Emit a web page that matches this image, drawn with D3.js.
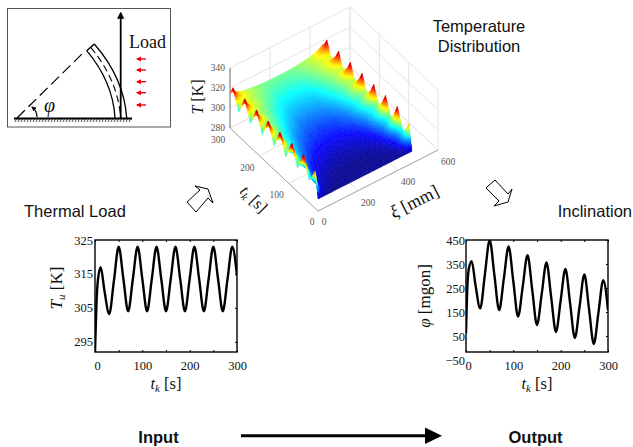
<!DOCTYPE html>
<html>
<head>
<meta charset="utf-8">
<script src="https://d3js.org/d3.v7.min.js"></script>
<style>
html, body { margin: 0; padding: 0; background: #fff; }
svg { display: block; }
</style>
</head>
<body>
<svg id="chart" width="633" height="447"></svg>
<script>
// values
var lineTimes = [0, 3, 6, 12, 20, 30, 40, 50, 60, 70, 80, 90, 100, 110, 120, 130, 140, 150, 160, 170, 180, 190, 200, 210, 220, 230, 240, 250, 260, 270, 280, 290, 300];
var thermalLoad = [292, 306, 313, 317, 310, 303.2, 313, 323, 313.5, 304, 313.5, 323, 313.5, 304, 313.5, 323, 313.5, 304, 313.5, 323, 313.5, 304, 313.5, 323, 313.5, 304, 313.5, 323, 313.5, 304, 313.5, 323, 314.5];
var inclination = [62, 260, 330, 362, 263, 165, 308, 450, 304, 158, 290, 423, 277, 131, 259, 387, 241, 96, 226, 356, 211, 67, 198, 329, 185, 42, 174, 306, 161, 17, 150, 283, 158];

var loadTicks = [325, 315, 305, 295];
var inclinationTicks = [450, 350, 250, 150, 50, -50];
var timeTicks = [0, 50, 100, 150, 200, 250, 300];
var timeLabels = [0, 100, 200, 300];

// surface: one row per depth from a heated edge, one column per 10 s
var gridTimes = [0, 10, 20, 30, 40, 50, 60, 70, 80, 90, 100, 110, 120, 130, 140, 150, 160, 170, 180, 190, 200, 210, 220, 230, 240, 250, 260, 270, 280, 290, 300];
var depth0 = [292, 317, 309, 303, 313, 323, 313, 304, 313, 323, 313, 304, 313, 323, 313, 304, 313, 323, 313, 304, 313, 323, 313, 304, 313, 323, 313, 304, 313, 323, 314];
var depth8 = [292, 306, 306, 304, 307, 315, 311, 307, 310.5, 317, 313, 308.5, 312, 317.5, 313.5, 309, 312.5, 318, 314, 309.5, 313, 318, 314, 309.5, 313, 318.5, 314.5, 310, 313.5, 318.5, 316];
var depth16 = [292, 299, 302, 301, 303, 309, 308, 305, 307, 312, 310.5, 307, 309.5, 314, 312, 308.5, 310.5, 315, 313, 309.5, 311.5, 315.5, 313.5, 310, 312, 316, 314, 310.5, 312.5, 316, 314.5];
var depth30 = [292, 294, 297, 297, 298.5, 302, 303, 302, 303.5, 306, 306.5, 305, 306, 309, 309, 307.5, 308.5, 311, 311, 309.5, 310, 312, 312, 310.5, 311, 313, 313, 311, 312, 314, 313.5];
var depth50 = [292, 292.5, 293.5, 294, 295.5, 297, 298, 299, 300.5, 302, 302.5, 303, 304, 305.5, 306, 306, 307, 308, 308, 308, 308.5, 309.5, 309.5, 309.5, 310, 311, 311, 311, 311.5, 312, 311.5];
var depth80 = [292, 292, 292.5, 293, 293.5, 294, 295, 295.5, 296.5, 297.5, 298.5, 299.5, 300.5, 301.5, 302.5, 303, 304, 304.5, 305.5, 306, 306.5, 307, 307.5, 308, 308.5, 309, 309.5, 309.5, 310, 310, 310];
var depth120 = [292, 292, 292, 292.2, 292.5, 293, 293.5, 294, 294.5, 295.2, 296, 296.8, 297.6, 298.4, 299.2, 300, 300.8, 301.6, 302.4, 303.2, 304, 304.6, 305.2, 305.8, 306.4, 307, 307.5, 308, 308.4, 308.8, 309];
var depth170 = [292, 292, 292, 292, 292.2, 292.5, 293, 293.3, 293.8, 294.3, 294.9, 295.5, 296.1, 296.8, 297.4, 298, 298.7, 299.4, 300.1, 300.8, 301.5, 302.2, 302.9, 303.6, 304.3, 305, 305.7, 306.3, 306.9, 307.4, 308];
var depth235 = [292, 292, 292, 292, 292, 292.3, 292.6, 293, 293.4, 293.9, 294.4, 295, 295.6, 296.2, 296.8, 297.4, 298.1, 298.8, 299.5, 300.2, 301, 301.7, 302.4, 303.1, 303.8, 304.5, 305.2, 305.9, 306.6, 307.2, 307.8];
var gridXi = [0, 8, 16, 30, 50, 80, 120, 170, 235, 300, 350, 390, 420, 440, 454, 462, 470];
var gridRows = [depth0, depth8, depth16, depth30, depth50, depth80, depth120, depth170, depth235, depth170, depth120, depth80, depth50, depth30, depth16, depth8, depth0];

var jetStops = [292, 295.5, 304.5, 312, 319, 323.5];
var jetColors = ["#00008f", "#0000ff", "#00ffff", "#ffff00", "#ff0000", "#800000"];

var xiTicks = [0, 200, 400, 600];
var surfTimeTicks = [0, 100, 200, 300];
var tempTicks = [280, 300, 320, 340];

var svg = d3.select("#chart");
var serif = "'Liberation Serif', serif";
var sans = "'Liberation Sans', Arial, sans-serif";

svg.append("defs").append("filter").attr("id", "soft")
    .attr("x", "-5%").attr("y", "-5%").attr("width", "110%").attr("height", "110%")
    .append("feGaussianBlur").attr("stdDeviation", 0.7);

var defs = svg.select("defs");
defs.append("marker").attr("id", "tip").attr("viewBox", "0 0 10 10")
    .attr("refX", 8).attr("refY", 5).attr("markerWidth", 4).attr("markerHeight", 5).attr("orient", "auto")
    .append("path").attr("d", "M0,0L10,5L0,10z").attr("fill", "#000");
defs.append("marker").attr("id", "redtip").attr("viewBox", "0 0 10 10")
    .attr("refX", 8).attr("refY", 5).attr("markerWidth", 4).attr("markerHeight", 4).attr("orient", "auto")
    .append("path").attr("d", "M0,0L10,5L0,10z").attr("fill", "#f00000");

/* ---- line plots ---- */
function linePlot(cfg) {
    var x = d3.scaleLinear().domain([0, 300]).range([cfg.left, cfg.left + 142]);
    var y = d3.scaleLinear().domain(cfg.yDomain).range(cfg.yRange);
    var g = svg.append("g");

    g.append("clipPath").attr("id", cfg.id).append("rect")
        .attr("x", cfg.left).attr("y", 240).attr("width", 142).attr("height", 112);

    g.append("path")
        .attr("clip-path", "url(#" + cfg.id + ")")
        .attr("fill", "none").attr("stroke", "#000").attr("stroke-width", 2.4)
        .attr("d", d3.line().curve(d3.curveMonotoneX)
            .x(function (d, i) { return x(lineTimes[i]); })
            .y(function (d) { return y(d); })(cfg.values));

    // inward ticks along top and bottom
    g.append("g").attr("transform", "translate(0,352)")
        .call(d3.axisBottom(x).tickValues(timeTicks).tickSize(-2).tickFormat(""))
        .call(function (a) { a.select(".domain").remove(); });
    g.append("g").attr("transform", "translate(0,240)")
        .call(d3.axisTop(x).tickValues(timeTicks).tickSize(-2).tickFormat(""))
        .call(function (a) { a.select(".domain").remove(); });

    g.append("g").attr("transform", "translate(0,361)")
        .call(d3.axisBottom(x).tickValues(timeLabels).tickSize(0).tickPadding(0).tickFormat(d3.format("d")))
        .call(function (a) {
            a.select(".domain").remove();
            a.selectAll("text").attr("font-family", serif).attr("font-size", 12.5).attr("fill", "#111")
                .attr("dx", function (d) { return d === 0 ? 2 : 0; });
        });

    g.append("g").attr("transform", "translate(" + cfg.left + ",0)")
        .call(d3.axisLeft(y).tickValues(cfg.ticks).tickSize(0).tickPadding(cfg.pad).tickFormat(d3.format("d")))
        .call(function (a) {
            a.select(".domain").remove();
            a.selectAll("text").attr("font-family", serif).attr("font-size", 12.5).attr("fill", "#111");
        });
    g.append("g").attr("transform", "translate(" + (cfg.left + 142) + ",0)")
        .call(d3.axisRight(y).tickValues(cfg.ticks.filter(function (v) { return v >= y.invert(352); })).tickSize(-2).tickFormat(""))
        .call(function (a) { a.select(".domain").remove(); });

    g.append("rect")
        .attr("x", cfg.left).attr("y", 240).attr("width", 142).attr("height", 112)
        .attr("fill", "none").attr("stroke", "#000").attr("stroke-width", 1.4);

    // x title
    var xt = g.append("text").attr("x", cfg.left + 71).attr("y", 389)
        .attr("text-anchor", "middle").attr("font-family", serif).attr("font-size", 16.5).attr("fill", "#111");
    xt.append("tspan").attr("font-style", "italic").text("t");
    xt.append("tspan").attr("font-style", "italic").attr("font-size", 11).attr("dy", 3).text("k");
    xt.append("tspan").attr("dy", -3).text(" [s]");

    // y title
    var yt = g.append("text")
        .attr("transform", "translate(" + cfg.titleX + "," + cfg.titleY + ") rotate(-90)")
        .attr("text-anchor", "middle").attr("font-family", serif).attr("font-size", 17).attr("fill", "#111");
    cfg.yTitle(yt);
}

linePlot({
    id: "clipLoad", left: 95, values: thermalLoad, ticks: loadTicks,
    yDomain: [292, 325], yRange: [352, 240], pad: 2, titleX: 62, titleY: 288,
    yTitle: function (t) {
        t.append("tspan").attr("font-style", "italic").text("T");
        t.append("tspan").attr("font-style", "italic").attr("font-size", 11).attr("dy", 3).text("u");
        t.append("tspan").attr("dy", -3).text("  [K]");
    }
});

linePlot({
    id: "clipIncl", left: 466, values: inclination, ticks: inclinationTicks,
    yDomain: [-50, 450], yRange: [360, 240], pad: 1, titleX: 430, titleY: 296,
    yTitle: function (t) {
        t.append("tspan").attr("font-style", "italic").text("\u03c6");
        t.append("tspan").text(" [mgon]");
    }
});

/* ---- 3d surface ---- */
var xiToX = d3.scaleLinear().domain([0, 600]).range([0, 120]);
var xiToY = d3.scaleLinear().domain([0, 600]).range([0, -61]);
var tToX = d3.scaleLinear().domain([0, 300]).range([0, -88]);
var tToY = d3.scaleLinear().domain([0, 300]).range([0, -83]);
var tempToY = d3.scaleLinear().domain([280, 340]).range([211, 151]);
var jet = d3.scaleLinear().domain(jetStops).range(jetColors).clamp(true);

function project(xi, t, T) {
    return [318 + xiToX(xi) + tToX(t), tempToY(T) + xiToY(xi) + tToY(t)];
}

var box = svg.append("g").attr("fill", "none");
function seg(a, b, col) {
    var p = project(a[0], a[1], a[2]), q = project(b[0], b[1], b[2]);
    box.append("line").attr("x1", p[0]).attr("y1", p[1]).attr("x2", q[0]).attr("y2", q[1])
        .attr("stroke", col).attr("stroke-width", 1);
}
var wall = "#e4e4e4", edge = "#a8a8a8";
tempTicks.forEach(function (T) {
    seg([0, 300, T], [600, 300, T], wall);
    seg([600, 300, T], [600, 0, T], wall);
});
xiTicks.forEach(function (xi) {
    seg([xi, 300, 280], [xi, 300, 340], wall);
    seg([xi, 300, 280], [xi, 0, 280], wall);
});
surfTimeTicks.forEach(function (t) {
    seg([600, t, 280], [600, t, 340], wall);
    seg([0, t, 280], [600, t, 280], wall);
});
seg([0, 0, 280], [600, 0, 280], edge);
seg([0, 0, 280], [0, 300, 280], edge);
seg([0, 300, 280], [0, 300, 340], "#777");

// interp shading: every grid cell is split up so the colour runs smoothly
var quads = [];
var split = 4;
function cellPoint(r, c, u, v) {
    var a = gridRows[r][c], b = gridRows[r][c + 1], d = gridRows[r + 1][c], e = gridRows[r + 1][c + 1];
    var T = a * (1 - u) * (1 - v) + b * u * (1 - v) + d * (1 - u) * v + e * u * v;
    var xi = gridXi[r] + (gridXi[r + 1] - gridXi[r]) * v;
    var t = gridTimes[c] + (gridTimes[c + 1] - gridTimes[c]) * u;
    return {xi: xi, t: t, T: T};
}
for (var c = gridTimes.length - 2; c >= 0; c--) {
    for (var s = split - 1; s >= 0; s--) {
        for (var r = gridXi.length - 2; r >= 0; r--) {
            for (var q = split - 1; q >= 0; q--) {
                quads.push([
                    cellPoint(r, c, s / split, q / split),
                    cellPoint(r, c, (s + 1) / split, q / split),
                    cellPoint(r, c, (s + 1) / split, (q + 1) / split),
                    cellPoint(r, c, s / split, (q + 1) / split)
                ]);
            }
        }
    }
}

svg.append("g").attr("filter", "url(#soft)")
    .selectAll("path").data(quads).join("path")
    .attr("d", function (d) {
        return "M" + d.map(function (p) { return project(p.xi, p.t, p.T).map(function (n) { return n.toFixed(2); }).join(","); }).join("L") + "Z";
    })
    .attr("fill", function (d) { return jet(d3.mean(d, function (p) { return p.T; })); })
    .attr("stroke", function (d) { return jet(d3.mean(d, function (p) { return p.T; })); })
    .attr("stroke-width", 0.4);

// small grey tick labels round the box
var tickText = svg.append("g").attr("font-family", serif).attr("font-size", 9.5).attr("fill", "#555").attr("text-anchor", "middle");
tempTicks.forEach(function (T) {
    var p = project(0, 300, T);
    tickText.append("text").attr("x", p[0] - 5).attr("y", p[1] + 3).attr("text-anchor", "end").text(T);
});
surfTimeTicks.forEach(function (t) {
    var p = project(0, t, 280);
    tickText.append("text").attr("x", p[0] + (t === 0 ? -6 : -12)).attr("y", p[1] + (t === 0 ? 14 : 15)).text(t);
});
xiTicks.forEach(function (xi) {
    var p = project(xi, 0, 280);
    tickText.append("text").attr("x", p[0] + (xi === 0 ? 6 : 10)).attr("y", p[1] + (xi === 0 ? 14 : 15)).text(xi);
});

var tLabel = svg.append("text").attr("transform", "translate(203,97) rotate(-90)")
    .attr("text-anchor", "middle").attr("font-family", serif).attr("font-size", 16).attr("fill", "#111");
tLabel.append("tspan").attr("font-style", "italic").text("T");
tLabel.append("tspan").text("  [K]");

var tkLabel = svg.append("text").attr("transform", "translate(250,203) rotate(45)")
    .attr("text-anchor", "middle").attr("font-family", serif).attr("font-size", 16.5).attr("fill", "#111");
tkLabel.append("tspan").attr("font-style", "italic").text("t");
tkLabel.append("tspan").attr("font-style", "italic").attr("font-size", 11).attr("dy", 3).text("k");
tkLabel.append("tspan").attr("dy", -3).text(" [s]");

var xiLabel = svg.append("text").attr("transform", "translate(417,207) rotate(-27)")
    .attr("text-anchor", "middle").attr("font-family", serif).attr("font-size", 18).attr("fill", "#111");
xiLabel.append("tspan").attr("font-style", "italic").text("\u03be");
xiLabel.append("tspan").text(" [mm]");

/* ---- captions ---- */
function caption(txt, x, y, size, anchor, weight) {
    svg.append("text").attr("x", x).attr("y", y).attr("font-family", sans).attr("font-size", size)
        .attr("text-anchor", anchor).attr("font-weight", weight || "normal").attr("fill", "#111").text(txt);
}
caption("Temperature", 479, 32, 16.5, "middle");
caption("Distribution", 479, 52, 16.5, "middle");
caption("Thermal Load", 24, 217, 16.5, "start");
caption("Inclination", 632, 217, 16.5, "end");
caption("Input", 158.5, 443, 16.5, "middle", "bold");
caption("Output", 535.5, 443, 16.5, "middle", "bold");

/* ---- flow arrows ---- */
var inArrow = [[187, 202], [200, 190], [195, 186], [208, 189], [213, 203], [208, 198], [196, 212]];
var outArrow = [[486, 188], [495, 180], [508, 194], [512, 189], [508, 202], [494, 206], [499, 201]];
[inArrow, outArrow].forEach(function (pts) {
    svg.append("polygon").attr("points", pts.join(" ")).attr("fill", "#fff").attr("stroke", "#000").attr("stroke-width", 1);
});

svg.append("line").attr("x1", 241).attr("y1", 435.7).attr("x2", 426).attr("y2", 435.7).attr("stroke", "#000").attr("stroke-width", 3);
svg.append("polygon").attr("points", "425,427.5 442,435.7 425,444").attr("fill", "#000");

/* ---- beam sketch ---- */
var sketch = svg.append("g").attr("fill", "none").attr("stroke", "#000");
sketch.append("rect").attr("x", 7.5).attr("y", 8.5).attr("width", 163).attr("height", 118.5).attr("stroke", "#555").attr("stroke-width", 1);
sketch.append("line").attr("x1", 14).attr("y1", 118.5).attr("x2", 132).attr("y2", 118.5).attr("stroke-width", 2);
d3.range(15, 132, 3).forEach(function (hx) {
    sketch.append("line").attr("x1", hx + 1.5).attr("y1", 119).attr("x2", hx).attr("y2", 122).attr("stroke-width", 0.7);
});
sketch.append("line").attr("x1", 17).attr("y1", 118).attr("x2", 83).attr("y2", 53).attr("stroke-width", 1.2).attr("stroke-dasharray", "11,5");
sketch.append("path").attr("d", "M94.3,44Q124,78 126.7,118").attr("stroke-width", 1.3);
sketch.append("path").attr("d", "M86.7,50.7Q113,82 115,118").attr("stroke-width", 1.3);
sketch.append("path").attr("d", "M90.7,47.3Q118,80 120.7,118").attr("stroke-width", 1.1).attr("stroke-dasharray", "7,4");
sketch.append("line").attr("x1", 86.7).attr("y1", 50.7).attr("x2", 94.3).attr("y2", 44).attr("stroke-width", 1.5);
sketch.append("line").attr("x1", 120.7).attr("y1", 118).attr("x2", 120.7).attr("y2", 13).attr("stroke-width", 1.8).attr("marker-end", "url(#tip)");
sketch.append("path").attr("d", "M37,117Q37,111 32,107").attr("stroke-width", 1.2).attr("marker-end", "url(#tip)");

[59, 70, 81.7, 92.7, 105].forEach(function (ry) {
    sketch.append("line").attr("x1", 146).attr("y1", ry).attr("x2", 137).attr("y2", ry)
        .attr("stroke", "#f00000").attr("stroke-width", 1.4).attr("marker-end", "url(#redtip)");
});
svg.append("text").attr("x", 129).attr("y", 48).attr("font-family", serif).attr("font-size", 18).attr("fill", "#111").text("Load");
svg.append("text").attr("x", 44).attr("y", 112).attr("font-family", serif).attr("font-style", "italic").attr("font-size", 20).attr("fill", "#111").text("\u03c6");
</script>
</body>
</html>
